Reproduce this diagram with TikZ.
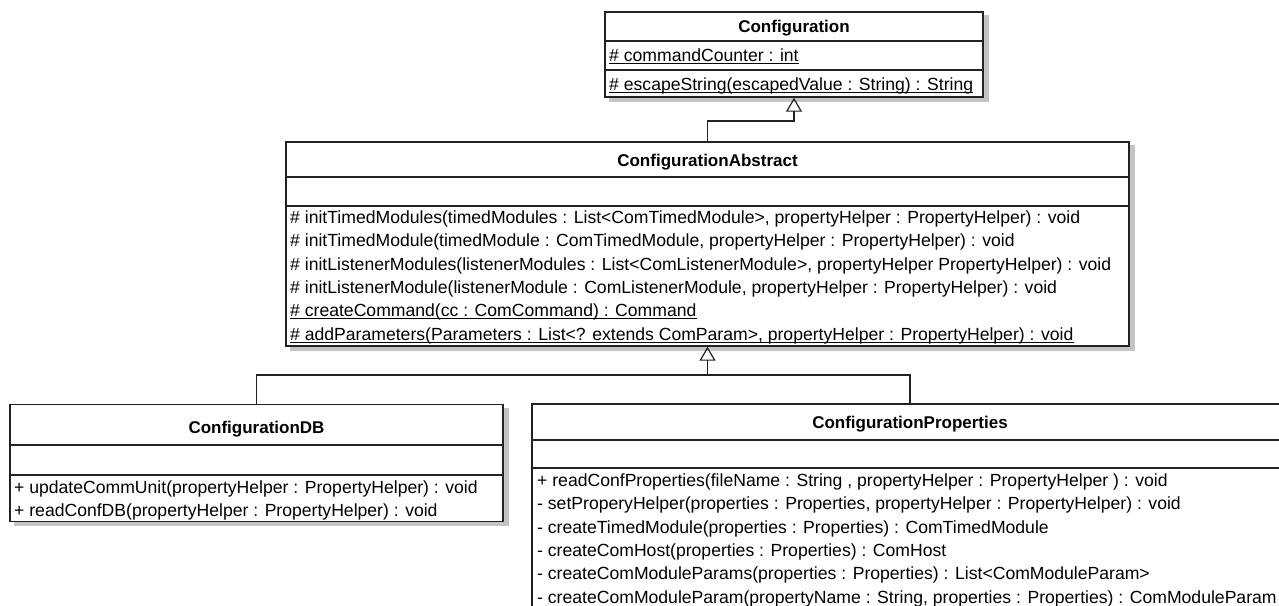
\documentclass[tikz,border=0pt]{standalone}
\usepackage{fontspec}
\setmainfont{Liberation Sans}
\usetikzlibrary{arrows.meta}
\definecolor{edgeclr}{HTML}{222222}
\definecolor{shadowclr}{HTML}{C4C4C4}
\tikzset{
  classbox/.style={draw=edgeclr, line width=1.4pt, fill=white, rectangle, inner sep=0pt},
  title/.style={inner sep=0pt, anchor=base, font=\fontsize{17}{20}\selectfont\bfseries},
  member/.style={inner sep=0pt, anchor=base west, font=\fontsize{17.6}{20}\selectfont},
  divider/.style={draw=edgeclr, line width=1.4pt},
  uline/.style={draw=black, line width=0.9pt},
  generalization/.style={draw=edgeclr, line width=1.2pt, -{Triangle[open, length=14pt, width=16pt]}},
  link/.style={draw=edgeclr, line width=1.2pt}
}
% shadowed class rectangle
\newcommand{\shadowed}[1]{%
  \fill[shadowclr] ([shift={(5,4)}]#1.north west) rectangle ([shift={(5,4)}]#1.south east);}
% underline a member node just below its baseline
\newcommand{\ul}[1]{\draw[uline] ([yshift=-2.5pt]#1.base west) -- ([yshift=-2.5pt]#1.base east);}
\begin{document}
\begin{tikzpicture}[x=1pt, y=-1pt]
\useasboundingbox (0,0) rectangle (1279,605);
\clip (0,0) rectangle (1279,605);

% ---------- Configuration ----------
\path (794,54.5) node[classbox, minimum width=378pt, minimum height=85pt] (conf) {};
\shadowed{conf}
\node[classbox, minimum width=378pt, minimum height=85pt] at (conf.center) {};
\draw[divider] (605,41) -- (983,41);
\draw[divider] (605,70) -- (983,70);
\node[title] (confT) at (794,32) {Configuration};
\node[member] (confA1) at (609,61) {\# commandCounter : int};
\node[member] (confM1) at (609,90) {\# escapeString(escapedValue : String) : String};
\ul{confA1}\ul{confM1}

% ---------- ConfigurationAbstract ----------
\path (707.5,244) node[classbox, minimum width=843pt, minimum height=204pt] (abs) {};
\shadowed{abs}
\node[classbox, minimum width=843pt, minimum height=204pt] at (abs.center) {};
\draw[divider] (286,177) -- (1129,177);
\draw[divider] (286,206) -- (1129,206);
\node[title] (absT) at (707.5,166) {ConfigurationAbstract};
\node[member] (absM1) at (290,223) {\# initTimedModules(timedModules : List<ComTimedModule>, propertyHelper : PropertyHelper) : void};
\node[member] (absM2) at (290,246) {\# initTimedModule(timedModule : ComTimedModule, propertyHelper : PropertyHelper) : void};
\node[member] (absM3) at (290,270) {\# initListenerModules(listenerModules : List<ComListenerModule>, propertyHelper PropertyHelper) : void};
\node[member] (absM4) at (290,293) {\# initListenerModule(listenerModule : ComListenerModule, propertyHelper : PropertyHelper) : void};
\node[member] (absM5) at (290,316) {\# createCommand(cc : ComCommand) : Command};
\node[member] (absM6) at (290,340) {\# addParameters(Parameters : List<? extends ComParam>, propertyHelper : PropertyHelper) : void};
\ul{absM5}\ul{absM6}

% ---------- ConfigurationDB ----------
\path (256.5,463) node[classbox, minimum width=493pt, minimum height=117pt] (db) {};
\shadowed{db}
\node[classbox, minimum width=493pt, minimum height=117pt] at (db.center) {};
\draw[divider] (10,445) -- (503,445);
\draw[divider] (10,475) -- (503,475);
\node[title] (dbT) at (256.5,433) {ConfigurationDB};
\node[member] (dbM1) at (14,493) {+ updateCommUnit(propertyHelper : PropertyHelper) : void};
\node[member] (dbM2) at (14,516) {+ readConfDB(propertyHelper : PropertyHelper) : void};

% ---------- ConfigurationProperties ----------
\path (910,560) node[classbox, minimum width=756pt, minimum height=312pt] (props) {};
\shadowed{props}
\node[classbox, minimum width=756pt, minimum height=312pt] at (props.center) {};
\draw[divider] (532,440) -- (1288,440);
\draw[divider] (532,468) -- (1288,468);
\node[title] (propsT) at (910,428) {ConfigurationProperties};
\node[member] (propsM1) at (537,486) {+ readConfProperties(fileName : String , propertyHelper : PropertyHelper ) : void};
\node[member] (propsM2) at (537,509) {- setProperyHelper(properties : Properties, propertyHelper : PropertyHelper) : void};
\node[member] (propsM3) at (537,533) {- createTimedModule(properties : Properties) : ComTimedModule};
\node[member] (propsM4) at (537,556) {- createComHost(properties : Properties) : ComHost};
\node[member] (propsM5) at (537,579) {- createComModuleParams(properties : Properties) : List<ComModuleParam>};
\node[member] (propsM6) at (537,603) {- createComModuleParam(propertyName : String, properties : Properties) : ComModuleParam};

% ---------- generalization connectors ----------
\coordinate (j1) at (707.5,121);
\draw[generalization] (abs.north) -- (j1) -| (conf.south);
\coordinate (j2) at (707.5,375);
\draw[link] (db.north) |- (j2) -| (props.north);
\draw[generalization] (j2) -- (abs.south);
\end{tikzpicture}
\end{document}
